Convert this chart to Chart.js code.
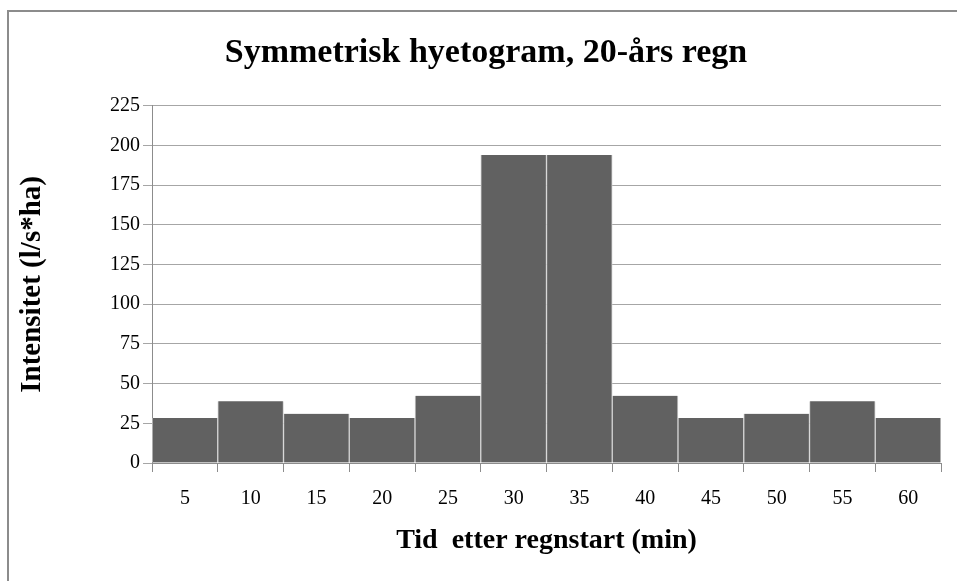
<!DOCTYPE html>
<html>
<head>
<meta charset="utf-8">
<title>Symmetrisk hyetogram</title>
<script src="https://cdn.jsdelivr.net/npm/chart.js@4.4.1/dist/chart.umd.min.js"></script>
<style>
  html, body { margin: 0; padding: 0; background: #fff; overflow: hidden; }
  #frame {
    position: absolute; left: 7px; top: 10px;
    width: 1000px; height: 700px;
    border: 2px solid #8c8c8c; box-sizing: border-box;
  }
  /* canvas runs a little past the right edge, like the chart frame */
  #wrap { position: absolute; left: 0; top: 0; width: 972px; height: 581px; }
</style>
</head>
<body>
<div id="frame"></div>
<div id="wrap"><canvas id="hyetogram"></canvas></div>
<script>
// Tid etter regnstart (min) og intensitet (l/s*ha)
const tider = ['5', '10', '15', '20', '25', '30', '35', '40', '45', '50', '55', '60'];
const intensitet = [28.3, 38.9, 31.0, 28.3, 42.3, 194.0, 194.0, 42.3, 28.3, 31.0, 38.9, 28.3];
const yMax = 225;
const yStep = 25;

const serif = 'Liberation Serif, Times New Roman, serif';
const gridGray = '#a6a6a6';
const axisGray = '#8c8c8c';

document.addEventListener('DOMContentLoaded', function() {
    const ctx = document.getElementById('hyetogram').getContext('2d');

    new Chart(ctx, {
        type: 'bar',
        data: {
            labels: tider,
            datasets: [{
                label: 'Intensitet',
                data: intensitet,
                backgroundColor: '#616161',
                borderColor: '#d4d4d4',
                borderWidth: { left: 1, right: 1, top: 0, bottom: 0 },
                barPercentage: 1.0,
                categoryPercentage: 1.0
            }]
        },
        options: {
            responsive: true,
            maintainAspectRatio: false,
            animation: false,
            layout: { padding: { top: 11, left: 31, right: 31, bottom: 0 } },
            plugins: {
                legend: { display: false },
                tooltip: { enabled: false },
                title: {
                    display: true,
                    text: 'Symmetrisk hyetogram, 20-års regn',
                    color: '#000',
                    font: { family: serif, size: 34, weight: 'bold' },
                    padding: { top: 22, bottom: 32 }
                }
            },
            scales: {
                x: {
                    grid: {
                        offset: true,
                        drawOnChartArea: false,
                        drawTicks: true,
                        tickLength: 9,
                        color: axisGray
                    },
                    border: { display: true, color: axisGray, width: 1 },
                    ticks: {
                        color: '#000',
                        font: { family: serif, size: 20 },
                        padding: 15,
                        maxRotation: 0
                    },
                    title: {
                        display: true,
                        text: 'Tid  etter regnstart (min)',
                        color: '#000',
                        font: { family: serif, size: 28, weight: 'bold' },
                        padding: { top: 4, bottom: 23 }
                    },
                    afterFit: axis => { axis.height = 118; }
                },
                y: {
                    min: 0,
                    max: yMax,
                    ticks: {
                        stepSize: yStep,
                        color: '#000',
                        font: { family: serif, size: 20 },
                        padding: 3
                    },
                    grid: {
                        color: gridGray,
                        drawTicks: true,
                        tickLength: 9
                    },
                    border: { display: true, color: axisGray, width: 1 },
                    title: {
                        display: true,
                        text: 'Intensitet (l/s*ha)',
                        color: '#000',
                        font: { family: serif, size: 29, weight: 'bold' },
                        // pulled left, out past the layout padding
                        padding: { top: -16, bottom: 4 }
                    },
                    afterFit: axis => { axis.width = 121; }
                }
            }
        }
    });
});
</script>
</body>
</html>
